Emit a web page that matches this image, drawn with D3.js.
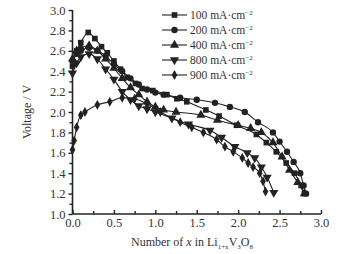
<!DOCTYPE html>
<html>
<head>
<meta charset="utf-8">
<script src="https://cdn.jsdelivr.net/npm/d3@7"></script>
<style>
  body { margin: 0; background: #fff; }
  svg { display: block; font-family: "Liberation Serif", "Times New Roman", serif; }
</style>
</head>
<body>
<div id="chart"></div>
<script>
// Discharge curves, x in Li(1+x)V3O8 vs voltage
const seriesNames = ["100 mA·cm", "200 mA·cm", "400 mA·cm", "800 mA·cm", "900 mA·cm"];

const x100 = [0, 0.05, 0.1, 0.19, 0.27, 0.35, 0.42, 0.5, 0.58, 0.66, 0.76, 0.84, 0.97, 1.14, 1.26, 1.38, 1.61, 1.77, 1.98, 2.22, 2.34, 2.46, 2.58, 2.68, 2.76, 2.8];
const v100 = [2.45, 2.6, 2.68, 2.78, 2.72, 2.64, 2.58, 2.5, 2.42, 2.34, 2.28, 2.23, 2.21, 2.17, 2.13, 2.1, 2.02, 1.96, 1.87, 1.78, 1.7, 1.61, 1.5, 1.4, 1.28, 1.2];

const x200 = [0, 0.05, 0.1, 0.2, 0.3, 0.4, 0.5, 0.6, 0.7, 0.8, 0.9, 1.0, 1.1, 1.3, 1.5, 1.72, 1.9, 2.08, 2.24, 2.42, 2.5, 2.59, 2.67, 2.75, 2.79, 2.82];
const v200 = [2.5, 2.57, 2.6, 2.63, 2.6, 2.55, 2.47, 2.4, 2.33, 2.27, 2.22, 2.19, 2.17, 2.14, 2.12, 2.09, 2.05, 2.0, 1.9, 1.8, 1.71, 1.61, 1.51, 1.4, 1.28, 1.2];

const x400 = [0, 0.05, 0.1, 0.2, 0.3, 0.4, 0.5, 0.6, 0.7, 0.8, 0.9, 1.0, 1.1, 1.25, 1.55, 1.75, 2.0, 2.15, 2.28, 2.42, 2.53, 2.62, 2.72, 2.8];
const v400 = [2.52, 2.6, 2.63, 2.65, 2.6, 2.52, 2.43, 2.33, 2.24, 2.17, 2.1, 2.05, 2.02, 2.0, 1.97, 1.92, 1.87, 1.84, 1.8, 1.7, 1.56, 1.43, 1.31, 1.2];

const x800 = [0, 0.05, 0.1, 0.2, 0.3, 0.4, 0.5, 0.6, 0.7, 0.8, 0.9, 1.0, 1.2, 1.4, 1.66, 1.8, 1.96, 2.11, 2.2, 2.28, 2.35, 2.43];
const v800 = [2.38, 2.48, 2.54, 2.57, 2.52, 2.42, 2.32, 2.2, 2.12, 2.06, 2.03, 2.0, 1.94, 1.88, 1.82, 1.75, 1.66, 1.6, 1.55, 1.46, 1.36, 1.21];

const x900 = [0, 0.02, 0.05, 0.1, 0.15, 0.3, 0.45, 0.6, 0.75, 0.9, 1.06, 1.3, 1.44, 1.58, 1.74, 1.84, 1.94, 2.05, 2.12, 2.18, 2.26, 2.3, 2.33];
const v900 = [1.63, 1.72, 1.85, 1.97, 2.0, 2.07, 2.1, 2.14, 2.13, 2.08, 2.0, 1.9, 1.85, 1.8, 1.73, 1.66, 1.61, 1.55, 1.5, 1.46, 1.4, 1.32, 1.22];

const xTicks = [0, 0.5, 1.0, 1.5, 2.0, 2.5, 3.0];
const yTicks = [1.0, 1.2, 1.4, 1.6, 1.8, 2.0, 2.2, 2.4, 2.6, 2.8, 3.0];

const W = 352, H = 254;
const margin = {top: 10, right: 31, bottom: 40, left: 72.5};
const width = W - margin.left - margin.right;
const height = H - margin.top - margin.bottom;

const svg = d3.select("#chart").append("svg")
  .attr("width", W)
  .attr("height", H);

const g = svg.append("g")
  .attr("transform", `translate(${margin.left},${margin.top})`);

const x = d3.scaleLinear().domain([0, 3]).range([0, width]);
const y = d3.scaleLinear().domain([1, 3]).range([height, 0]);

const ink = "#222";

// X axis: ticks point inward
const xAxis = g.append("g")
  .attr("transform", `translate(0,${height})`)
  .call(d3.axisBottom(x).tickValues(xTicks).tickFormat(d3.format(".1f")).tickSize(-4).tickPadding(4));
g.append("g")
  .attr("transform", `translate(0,${height})`)
  .call(d3.axisBottom(x).tickValues(d3.range(0.25, 3, 0.5)).tickFormat("").tickSize(-3))
  .select(".domain").remove();

// Y axis: ticks point outward
const yAxis = g.append("g")
  .call(d3.axisLeft(y).tickValues(yTicks).tickFormat(d3.format(".1f")).tickSize(4).tickPadding(3));
g.append("g")
  .call(d3.axisLeft(y).tickValues(d3.range(1.1, 3, 0.2)).tickFormat("").tickSize(3))
  .select(".domain").remove();

g.selectAll(".domain").attr("stroke", ink).attr("stroke-width", 1.6);
g.selectAll(".tick line").attr("stroke", ink).attr("stroke-width", 1.4);
g.selectAll(".tick text")
  .attr("fill", "#333")
  .style("font-family", "Liberation Serif, serif")
  .style("font-size", "12.5px");
xAxis.select(".domain").attr("d", `M0,0H${width}`);
yAxis.select(".domain").attr("d", `M0,${height}V0`);

// Axis titles
svg.append("text")
  .attr("transform", `translate(31,${margin.top + height / 2}) rotate(-90)`)
  .attr("text-anchor", "middle")
  .attr("fill", "#333")
  .style("font-size", "12px")
  .text("Voltage / V");

const xl = svg.append("text")
  .attr("x", 192)
  .attr("y", 246)
  .attr("text-anchor", "middle")
  .attr("fill", "#333")
  .style("font-size", "12px");
xl.append("tspan").text("Number of ");
xl.append("tspan").style("font-style", "italic").text("x");
xl.append("tspan").text(" in Li");
xl.append("tspan").attr("dy", 3).style("font-size", "7px").text("1+x");
xl.append("tspan").attr("dy", -3).text("V");
xl.append("tspan").attr("dy", 3).style("font-size", "7px").text("3");
xl.append("tspan").attr("dy", -3).text("O");
xl.append("tspan").attr("dy", 3).style("font-size", "7px").text("8");

// Series
const symbols = [d3.symbolSquare, d3.symbolCircle, d3.symbolTriangle, "down", d3.symbolDiamond];
const sizes = [32, 32, 36, 36, 28];

const series = [
  {xs: x100, vs: v100},
  {xs: x200, vs: v200},
  {xs: x400, vs: v400},
  {xs: x800, vs: v800},
  {xs: x900, vs: v900}
];

function markerPath(i) {
  if (symbols[i] === "down") return d3.symbol(d3.symbolTriangle, sizes[i])();
  return d3.symbol(symbols[i], sizes[i])();
}
function markerRot(i) { return symbols[i] === "down" ? " rotate(180)" : ""; }

const line = d3.line()
  .x(d => x(d[0]))
  .y(d => y(d[1]))
  .curve(d3.curveMonotoneX);

series.forEach((s, i) => {
  const pts = s.xs.map((xv, j) => [xv, s.vs[j]]);
  g.append("path")
    .datum(pts)
    .attr("fill", "none")
    .attr("stroke", ink)
    .attr("stroke-width", 1.1)
    .attr("d", line);
  g.selectAll(null)
    .data(pts)
    .enter()
    .append("path")
      .attr("d", markerPath(i))
      .attr("transform", d => `translate(${x(d[0])},${y(d[1])})${markerRot(i)}`)
      .attr("fill", ink);
});

// Legend
const legend = svg.append("g").attr("transform", "translate(162,15)");
const items = legend.selectAll("g")
  .data(seriesNames)
  .enter()
  .append("g")
    .attr("transform", (d, i) => `translate(0,${i * 15})`);
items.append("line")
  .attr("x1", 0).attr("x2", 25)
  .attr("stroke", ink).attr("stroke-width", 1.1);
items.append("path")
  .attr("d", (d, i) => markerPath(i))
  .attr("transform", (d, i) => `translate(12.5,0)${markerRot(i)}`)
  .attr("fill", ink);
const lt = items.append("text")
  .attr("x", 28)
  .attr("y", 4)
  .attr("fill", "#333")
  .style("font-size", "11.5px");
lt.append("tspan").text(d => d);
lt.append("tspan").attr("dy", -4).style("font-size", "7px").text("−2");
</script>
</body>
</html>
